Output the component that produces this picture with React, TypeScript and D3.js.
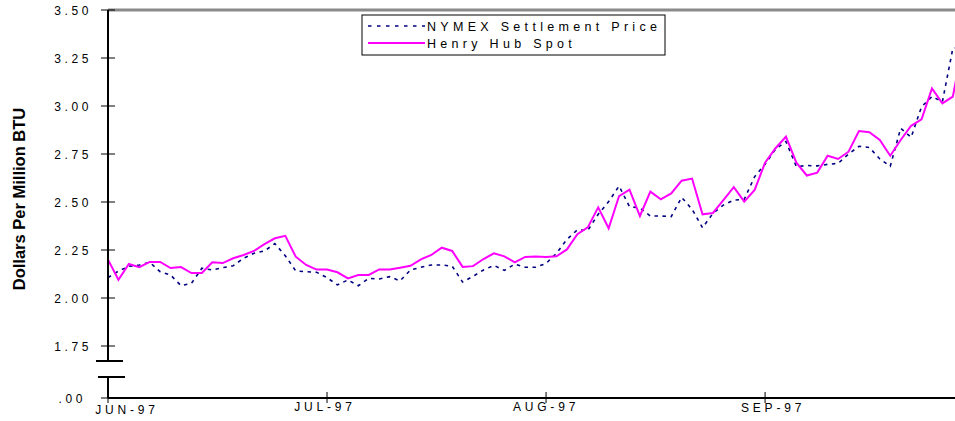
import React from 'react';
import * as d3 from 'd3';

const monthLabels = ['JUN-97', 'JUL-97', 'AUG-97', 'SEP-97'];
const monthStartIndex = [0, 21, 42, 63];
const yTickValues = [1.75, 2.0, 2.25, 2.5, 2.75, 3.0, 3.25, 3.5];
const yTickLabels = ['1.75', '2.00', '2.25', '2.50', '2.75', '3.00', '3.25', '3.50'];
const brokenBaseLabel = '.00';

const henryHub = [
  2.2, 2.095, 2.177, 2.161, 2.188, 2.188, 2.156, 2.161, 2.13, 2.13,
  2.186, 2.182, 2.207, 2.224, 2.245, 2.281, 2.311, 2.324, 2.215, 2.172,
  2.148, 2.148, 2.134, 2.102, 2.12, 2.12, 2.149, 2.149, 2.158, 2.168,
  2.201, 2.224, 2.262, 2.245, 2.162, 2.166, 2.203, 2.233, 2.217, 2.186,
  2.214, 2.216, 2.214, 2.217, 2.253, 2.332, 2.368, 2.472, 2.363, 2.531,
  2.564, 2.427, 2.554, 2.514, 2.545, 2.611, 2.622, 2.436, 2.443, 2.51,
  2.577, 2.502, 2.563, 2.705, 2.78, 2.84, 2.705, 2.638, 2.653, 2.741,
  2.724, 2.762, 2.87, 2.863, 2.823, 2.741, 2.823, 2.897, 2.93, 3.092,
  3.014, 3.049, 3.33,
];

const nymex = [
  2.106, 2.14, 2.165, 2.172, 2.186, 2.137, 2.12, 2.064, 2.076, 2.155,
  2.146, 2.158, 2.168, 2.207, 2.233, 2.245, 2.283, 2.22, 2.141, 2.137,
  2.134, 2.106, 2.068, 2.094, 2.064, 2.102, 2.099, 2.111, 2.089, 2.146,
  2.16, 2.172, 2.172, 2.166, 2.083, 2.113, 2.146, 2.17, 2.144, 2.176,
  2.16, 2.16, 2.18, 2.233, 2.305, 2.355, 2.352, 2.436, 2.502, 2.583,
  2.476, 2.469, 2.427, 2.427, 2.424, 2.524, 2.462, 2.366, 2.441, 2.484,
  2.51, 2.514, 2.632, 2.697, 2.775, 2.815, 2.684, 2.69, 2.688, 2.696,
  2.701, 2.75, 2.79, 2.784, 2.724, 2.686, 2.884, 2.837, 2.996, 3.049,
  3.022, 3.3, 3.31,
];

const seriesNames = ['NYMEX Settlement Price', 'Henry Hub Spot'];

export default function App() {
  const W = 955;
  const H = 421;
  const left = 108;
  const top = 10;
  const baseY = 398;
  const breakTop = 361;
  const breakBottom = 377;
  const font = 'Liberation Sans, Arial, sans-serif';

  const x = d3.scaleLinear().domain([0, 81]).range([left, left + 81 * 10.43]);
  const y = d3.scaleLinear().domain([2.0, 3.5]).range([298, top]);

  const line = d3
    .line<number>()
    .x((_, i) => x(i))
    .y((d) => y(d));

  const labelDx = [19, -2, 0, 8];
  const labelDy = [16, 13, 13, 14];

  return (
    <svg
      width={W}
      height={H}
      style={{ position: 'absolute', left: 0, top: 0, background: '#fff' }}
    >
      <rect x={0} y={0} width={W} height={H} fill="#fff" />
      {/* top border */}
      <line x1={left} x2={W} y1={top} y2={top} stroke="#8a8a8a" strokeWidth={3} />

      {/* data */}
      <path d={line(nymex) || ''} fill="none" stroke="#000080" strokeWidth={1.6} strokeDasharray="3.5,4.5" />
      <path d={line(henryHub) || ''} fill="none" stroke="#ff00ff" strokeWidth={2} strokeLinejoin="miter" />

      {/* y axis */}
      <line x1={left} x2={left} y1={top} y2={breakTop} stroke="#000" strokeWidth={2} />
      <line x1={left} x2={left} y1={breakBottom} y2={baseY} stroke="#000" strokeWidth={2} />
      <line x1={96} x2={123} y1={breakTop} y2={breakTop} stroke="#000" strokeWidth={2} />
      <line x1={98} x2={125} y1={breakBottom} y2={breakBottom} stroke="#000" strokeWidth={2} />
      {yTickValues.map((v, i) => (
        <g key={i}>
          <line x1={101} x2={115} y1={y(v)} y2={y(v)} stroke="#000" strokeWidth={1} />
          <text
            x={92}
            y={y(v) + 4.5}
            textAnchor="end"
            fontFamily={font}
            fontSize={12}
            letterSpacing={3.6}
            fill="#000"
          >
            {yTickLabels[i]}
          </text>
        </g>
      ))}
      <line x1={101} x2={108} y1={baseY} y2={baseY} stroke="#000" strokeWidth={1} />
      <text x={86} y={baseY + 4.5} textAnchor="end" fontFamily={font} fontSize={12} letterSpacing={3.6}>
        {brokenBaseLabel}
      </text>

      {/* x axis */}
      <line x1={left} x2={W} y1={baseY} y2={baseY} stroke="#000" strokeWidth={2} />
      {monthStartIndex.map((idx, i) => (
        <g key={i}>
          <line x1={x(idx)} x2={x(idx)} y1={baseY - 6} y2={baseY + 5} stroke="#000" strokeWidth={1} />
          <text
            x={x(idx) + labelDx[i]}
            y={baseY + labelDy[i]}
            textAnchor="middle"
            fontFamily={font}
            fontSize={12}
            letterSpacing={3.8}
          >
            {monthLabels[i]}
          </text>
        </g>
      ))}

      {/* y title */}
      <text
        transform={`translate(25,${199}) rotate(-90)`}
        textAnchor="middle"
        fontFamily={font}
        fontSize={16.5}
        fontWeight="bold"
      >
        Dollars Per Million BTU
      </text>

      {/* legend */}
      <rect x={362} y={15} width={303} height={40} fill="#fff" stroke="#000" strokeWidth={1} />
      <line x1={368} x2={425} y1={26} y2={26} stroke="#000080" strokeWidth={1.6} strokeDasharray="3.5,5.5" />
      <text x={427} y={30.5} fontFamily={font} fontSize={12.5} letterSpacing={4.3}>
        {seriesNames[0]}
      </text>
      <line x1={368} x2={425} y1={43} y2={43} stroke="#ff00ff" strokeWidth={2} />
      <text x={427} y={47.5} fontFamily={font} fontSize={12.5} letterSpacing={4.3}>
        {seriesNames[1]}
      </text>
    </svg>
  );
}
